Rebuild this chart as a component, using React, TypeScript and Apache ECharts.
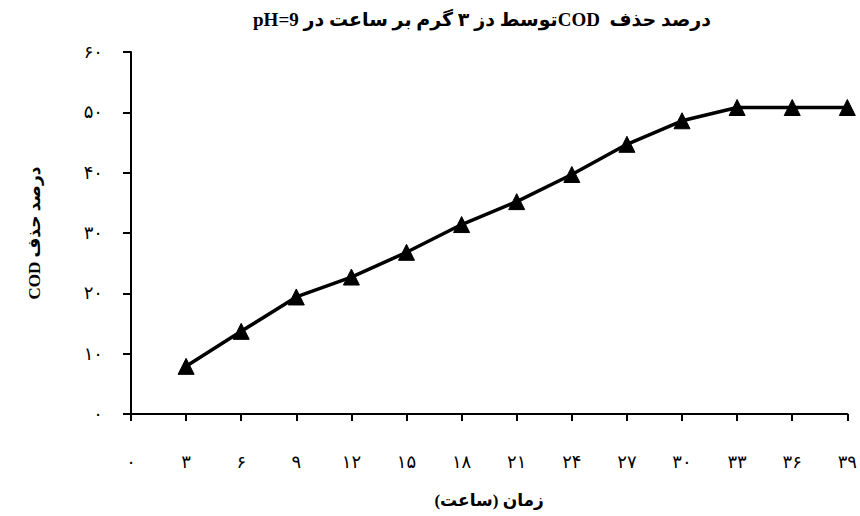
import React, { useEffect, useRef } from "react";
import * as echarts from "echarts";

const hours = [3, 6, 9, 12, 15, 18, 21, 24, 27, 30, 33, 36, 39];
const codRemoval = [7.9, 13.7, 19.4, 22.7, 26.8, 31.4, 35.2, 39.7, 44.7, 48.6, 50.8, 50.8, 50.8];
const persianDigits = ["۰", "۱", "۲", "۳", "۴", "۵", "۶", "۷", "۸", "۹"];
const titleText = "درصد حذف  CODتوسط دز ۳ گرم بر ساعت در pH=9";
const xName = "زمان (ساعت)";
const yName = "درصد حذف COD";

const RLE = "\u202B";
const PDF = "\u202C";
const toPersian = (v: number) =>
  String(v)
    .split("")
    .map((c) => (c >= "0" && c <= "9" ? persianDigits[+c] : c))
    .join("");

const FONT = "'Liberation Serif', 'DejaVu Sans', serif";

export default function App() {
  const ref = useRef<HTMLDivElement>(null);
  useEffect(() => {
    if (!ref.current) return;
    const chart = echarts.init(ref.current, undefined, { renderer: "svg" });
    chart.setOption({
      animation: false,
      backgroundColor: "#ffffff",
      title: {
        text: RLE + titleText + PDF,
        left: 477,
        textAlign: "center",
        top: 5,
        textStyle: { fontFamily: FONT, fontSize: 19, fontWeight: "bold", color: "#000" },
      },
      grid: { left: 131, right: 8, top: 52, bottom: 102, containLabel: false },
      xAxis: {
        type: "value",
        min: 0,
        max: 39,
        interval: 3,
        name: RLE + xName + PDF,
        nameLocation: "middle",
        nameGap: 78,
        nameTextStyle: { fontFamily: FONT, fontSize: 17, fontWeight: "bold", color: "#000" },
        axisLine: { lineStyle: { color: "#000", width: 2 } },
        axisTick: { show: true, length: 7, lineStyle: { color: "#000", width: 2 } },
        axisLabel: {
          margin: 39,
          fontFamily: FONT,
          fontSize: 18,
          color: "#000",
          formatter: (v: number) => toPersian(v),
        },
        splitLine: { show: false },
      },
      yAxis: {
        type: "value",
        min: 0,
        max: 60,
        interval: 10,
        name: RLE + yName + PDF,
        nameLocation: "middle",
        nameGap: 88,
        nameTextStyle: { fontFamily: FONT, fontSize: 17, fontWeight: "bold", color: "#000" },
        axisLine: { show: true, lineStyle: { color: "#000", width: 2 } },
        axisTick: { show: true, length: 8, lineStyle: { color: "#000", width: 2 } },
        axisLabel: {
          margin: 28,
          fontFamily: FONT,
          fontSize: 18,
          color: "#000",
          formatter: (v: number) => toPersian(v),
        },
        splitLine: { show: false },
      },
      series: [
        {
          type: "line",
          data: hours.map((h, i) => [h, codRemoval[i]]),
          symbol: "triangle",
          symbolSize: 16,
          clip: false,
          lineStyle: { color: "#000", width: 3.5 },
          itemStyle: { color: "#000", borderColor: "#000" },
        },
      ],
    });
    return () => chart.dispose();
  }, []);
  return (
    <div
      ref={ref}
      style={{ position: "absolute", left: 0, top: 0, width: 860, height: 516 }}
    />
  );
}
